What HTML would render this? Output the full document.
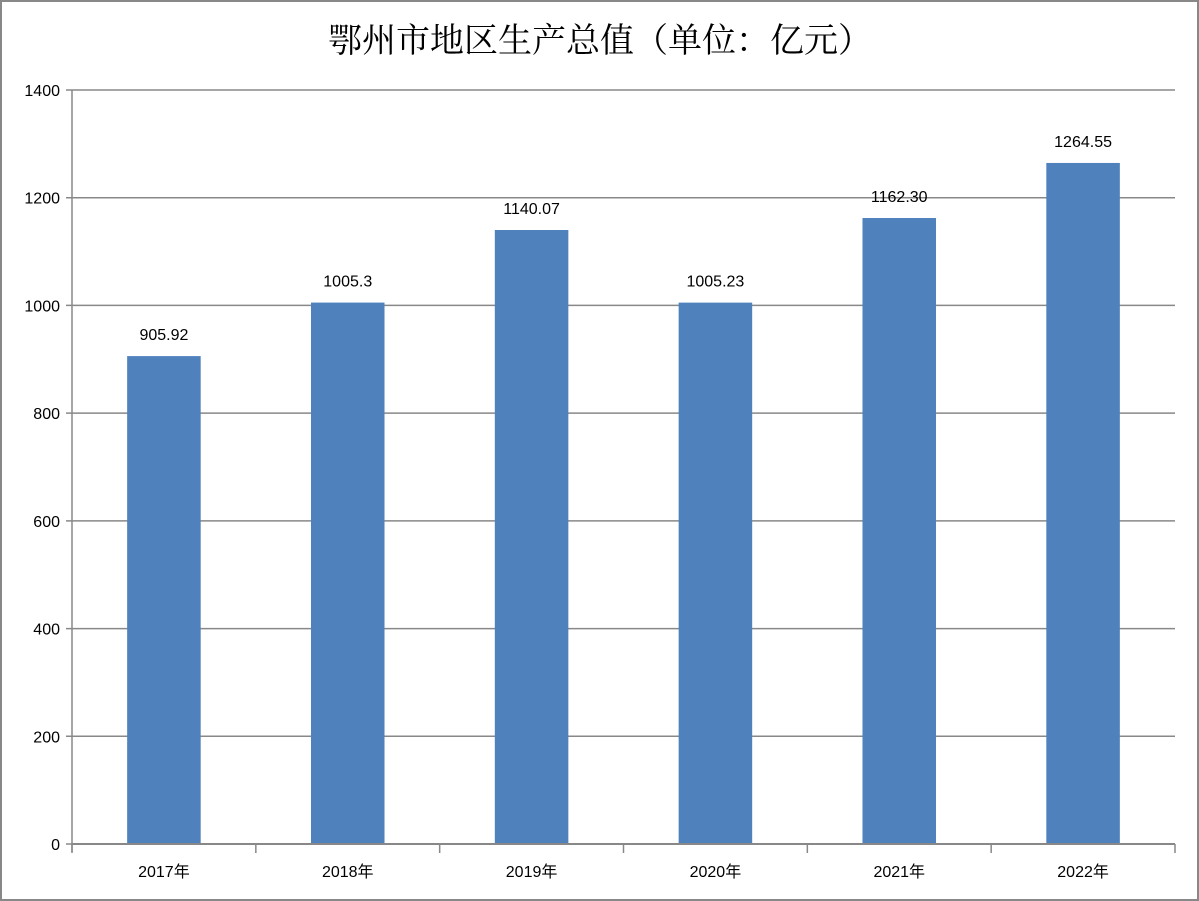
<!DOCTYPE html>
<html><head><meta charset="utf-8"><style>
body{margin:0;background:#fff}
svg{display:block}
text{font-family:"Liberation Sans","Noto Sans CJK SC",sans-serif}
</style></head><body>
<svg id="chart" width="1199" height="901">
<rect x="1" y="1" width="1197" height="899" fill="#fff" stroke="#888" stroke-width="2"/>
<text x="600" y="52" text-anchor="middle" font-size="34" fill="#000" style="font-family:'Noto Serif CJK SC','Noto Sans CJK SC',serif">鄂州市地区生产总值（单位：亿元）</text>
<g id="grid"></g><g id="bars"></g><g id="axes"></g>
</svg>
<script>
const categories=["2017年","2018年","2019年","2020年","2021年","2022年"];
const values=[905.92,1005.3,1140.07,1005.23,1162.30,1264.55];
const valueLabels=["905.92","1005.3","1140.07","1005.23","1162.30","1264.55"];
const yTicks=[0,200,400,600,800,1000,1200,1400];
const NS="http://www.w3.org/2000/svg";
const X0=72,X1=1175,Y0=844,Y1=90,YMAX=1400;
const y=v=>Y0-(v/YMAX)*(Y0-Y1);
const cw=(X1-X0)/categories.length;
const x=i=>X0+cw*(i+0.5);
function mk(p,tag,a){const e=document.createElementNS(NS,tag);for(const k in a)e.setAttribute(k,a[k]);p.appendChild(e);return e;}
const g=document.getElementById('grid'),b=document.getElementById('bars'),ax=document.getElementById('axes');
yTicks.forEach(t=>{
 const l=mk(g,'line',{x1:X0-6,x2:X1,y1:y(t),y2:y(t),stroke:'#888','stroke-width':1.5});
 
 
 const tx=mk(ax,'text',{x:X0-12,y:y(t)+6,'text-anchor':'end','font-size':16,fill:'#000'});
 tx.textContent=t;
 
 
});
const bw=cw*0.4;
values.forEach((v,i)=>{
 const r=mk(b,'rect',{x:x(i)-bw/2,y:y(v),width:bw,height:Y0-y(v),fill:'#4f81bd'});
 
 
 const t=mk(b,'text',{x:x(i),y:y(v)-16,'text-anchor':'middle','font-size':16,fill:'#000'});
 t.textContent=valueLabels[i];
 
 
 const c=mk(ax,'text',{x:x(i),y:Y0+33,'text-anchor':'middle','font-size':16,fill:'#000'});
 c.textContent=categories[i];
 
 
});
const ya=mk(ax,'line',{x1:X0,x2:X0,y1:Y1,y2:Y0+8,stroke:'#888','stroke-width':1.5});


const xa=mk(ax,'line',{x1:X0,x2:X1,y1:Y0,y2:Y0,stroke:'#888','stroke-width':2});


for(let i=0;i<=categories.length;i++){
 const tk=mk(ax,'line',{x1:X0+cw*i,x2:X0+cw*i,y1:Y0,y2:Y0+9,stroke:'#888','stroke-width':1.5});
 
 
}
</script>
</body></html>
